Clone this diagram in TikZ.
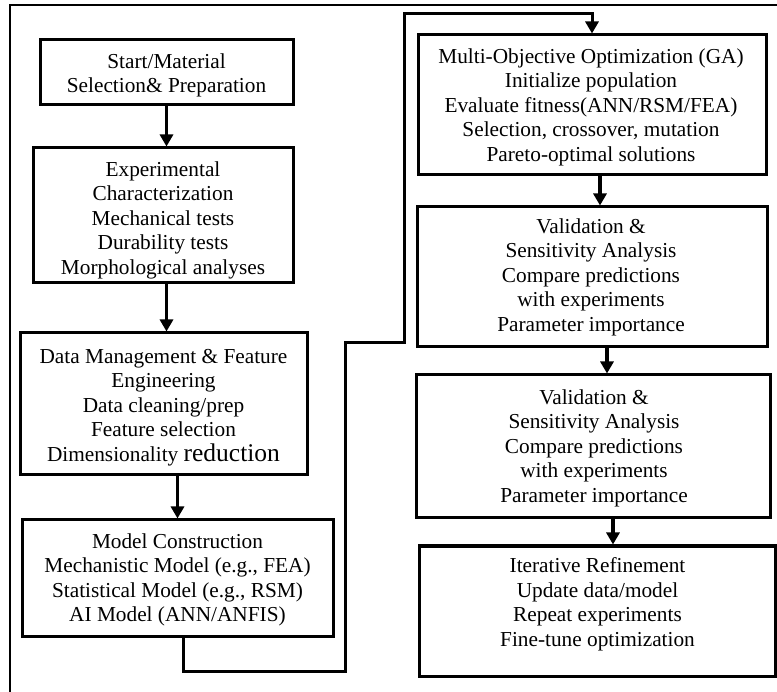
\documentclass[tikz,border=0pt]{standalone}
\usepackage{fontspec}
\setmainfont{Liberation Serif}
\usetikzlibrary{arrows.meta}
\begin{document}
\begin{tikzpicture}[x=1pt,y=-1pt,
  box/.style={draw=black,line width=3pt,rectangle,inner sep=0pt},
  txt/.style={align=center,inner sep=0pt,font=\fontsize{21.3}{24.5}\selectfont},
  arr/.style={line width=3.5pt,-{Triangle[length=12pt,width=13pt]}},
  conn/.style={line width=3pt,-{Triangle[length=12pt,width=13pt]}}]
\useasboundingbox (0,0) rectangle (777,692);
\draw[line width=1.3pt] (10,692) -- (10,5) -- (777,5);
% left column
\node[box,minimum width=253,minimum height=65] (b1) at (166.5,72.5) {};
\node[txt] (t1) at (166.5,75.2) {Start/Material\\Selection\& Preparation};
\node[box,minimum width=260,minimum height=135] (b2) at (163,215.5) {};
\node[txt] (t2) at (163,220.2) {Experimental\\Characterization\\Mechanical tests\\Durability tests\\Morphological analyses};
\node[box,minimum width=287,minimum height=142] (b3) at (163.5,404) {};
\node[txt] (t3) at (163.5,407.7) {Data Management \& Feature\\Engineering\\Data cleaning/prep\\Feature selection\\Dimensionality {\fontsize{25.5}{24.5}\selectfont reduction}};
\node[box,minimum width=311,minimum height=116] (b4) at (177.5,578) {};
\node[txt] (t4) at (177.5,579.7) {Model Construction\\Mechanistic Model (e.g., FEA)\\Statistical Model (e.g., RSM)\\AI Model (ANN/ANFIS)};
% right column
\node[box,minimum width=348,minimum height=140] (b5) at (592,105) {};
\node[txt] (t5) at (591,107.2) {Multi-Objective Optimization (GA)\\Initialize population\\Evaluate fitness(ANN/RSM/FEA)\\Selection, crossover, mutation\\Pareto-optimal solutions};
\node[box,minimum width=350,minimum height=140] (b6) at (592,277) {};
\node[txt] (t6) at (591,277.2) {Validation \&\\Sensitivity Analysis\\Compare predictions\\with experiments\\Parameter importance};
\node[box,minimum width=354,minimum height=143] (b7) at (593,446.5) {};
\node[txt] (t7) at (594,448.2) {Validation \&\\Sensitivity Analysis\\Compare predictions\\with experiments\\Parameter importance};
\node[box,minimum width=356,minimum height=130] (b8) at (597,611) {};
\node[txt] (t8) at (597.5,604.2) {Iterative Refinement\\Update data/model\\Repeat experiments\\Fine-tune optimization};
% arrows
\draw[arr] (b1.south) -- (b1.south |- b2.north);
\draw[arr] (b2.south -| b1.south) -- (b3.north -| b1.south);
\draw[arr] (b3.south -| b4.north) -- (b4.north);
\draw[conn] ([xshift=5.5pt]b4.south) |- (345,671) |- (404,343) |- (592,13.5) -- (b5.north);
\draw[arr] ([xshift=8pt]b5.south) -- ([xshift=8pt]b5.south |- b6.north);
\draw[arr] ([xshift=15pt]b6.south) -- ([xshift=15pt]b6.south |- b7.north);
\draw[arr] ([xshift=20pt]b7.south) -- ([xshift=20pt]b7.south |- b8.north);
\end{tikzpicture}
\end{document}
